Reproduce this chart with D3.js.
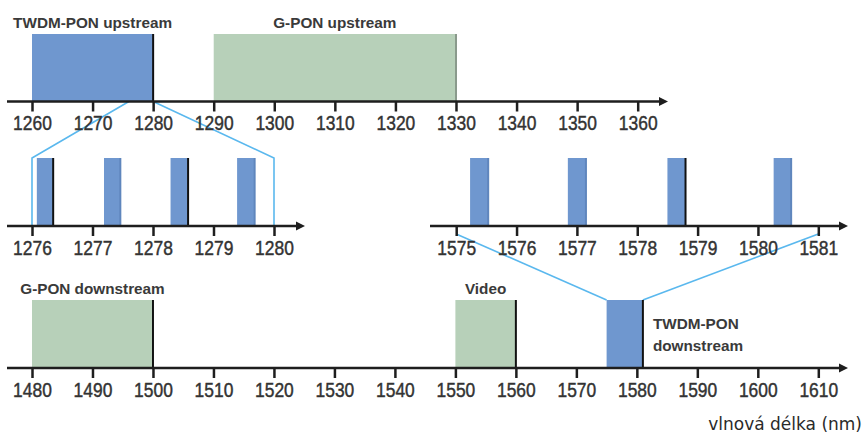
<!DOCTYPE html>
<html>
<head>
<meta charset="utf-8">
<script src="https://cdn.jsdelivr.net/npm/d3@7/dist/d3.min.js"></script>
<style>
  html, body { margin: 0; padding: 0; background: #fff; }
  svg { display: block; }
  .tick text { font-family: "Liberation Sans", Arial, sans-serif; font-size: 21px; fill: #333; stroke: #333; stroke-width: 0.45px; }
  .lbl { font-family: "Liberation Sans", Arial, sans-serif; font-weight: bold; font-size: 15.3px; fill: #3a3a3a; }
</style>
</head>
<body>
<script>
// ---------- DATA ----------
const upstreamTicks = [1260, 1270, 1280, 1290, 1300, 1310, 1320, 1330, 1340, 1350, 1360];
const upstreamBands = [
  { name: "TWDM-PON upstream", start: 1260, end: 1280, kind: "twdm" },
  { name: "G-PON upstream", start: 1290, end: 1330, kind: "gpon" }
];
const upZoomTicks = [1276, 1277, 1278, 1279, 1280];
const upZoomChannels = [
  { start: 1276.08, end: 1276.35 },
  { start: 1277.19, end: 1277.46 },
  { start: 1278.29, end: 1278.58 },
  { start: 1279.39, end: 1279.68 }
];
const downZoomTicks = [1575, 1576, 1577, 1578, 1579, 1580, 1581];
const downZoomChannels = [
  { start: 1575.23, end: 1575.53 },
  { start: 1576.85, end: 1577.15 },
  { start: 1578.50, end: 1578.80 },
  { start: 1580.26, end: 1580.55 }
];
const downstreamTicks = [1480, 1490, 1500, 1510, 1520, 1530, 1540, 1550, 1560, 1570, 1580, 1590, 1600, 1610];
const downstreamBands = [
  { name: "G-PON downstream", start: 1480, end: 1500, kind: "gpon" },
  { name: "Video", start: 1550, end: 1560, kind: "gpon" },
  { name: "TWDM-PON downstream", start: 1575, end: 1581, kind: "twdm" }
];
const upZoomRange = [1276, 1280];     // zoomed part of TWDM-PON upstream
const downZoomRange = [1575, 1581];   // zoomed part of TWDM-PON downstream
const axisTitle = "vlnová délka (nm)";

// ---------- STYLE / LAYOUT ----------
const W = 864, H = 433;
const fillOf = { twdm: "#6f97cf", gpon: "#b7d0b9" };
const linkColor = "#5ab8ee";
const axisColor = "#1e1e1e";

const svg = d3.select("body").append("svg").attr("width", W).attr("height", H);
svg.append("rect").attr("width", W).attr("height", H).attr("fill", "#fff");

const xTop = d3.scaleLinear().domain([1260, 1360]).range([32, 637.7]);
const xMidL = d3.scaleLinear().domain([1276, 1280]).range([32, 274]);
const xMidR = d3.scaleLinear().domain([1575, 1581]).range([456.2, 818.3]);
const xBot = d3.scaleLinear().domain([1480, 1610]).range([32, 818.3]);

const yTop = 101.5, yMid = 226, yBot = 368;

function drawAxis(scale, ticks, y, x0, x1) {
  const g = svg.append("g").attr("transform", `translate(0,${y})`);
  const ax = d3.axisBottom(scale).tickValues(ticks).tickFormat(d3.format("d"))
    .tickSize(10).tickSizeOuter(0).tickPadding(4);
  g.call(ax);
  g.select(".domain").remove();
  g.selectAll(".tick line").attr("stroke", axisColor).attr("stroke-width", 2.5);
  g.selectAll(".tick text").attr("font-family", null).attr("font-size", null)
    .attr("transform", "scale(0.83,1)");
  g.append("line").attr("x1", x0).attr("x2", x1 - 6).attr("y1", 0).attr("y2", 0)
    .attr("stroke", axisColor).attr("stroke-width", 2.5);
  g.append("path").attr("d", `M${x1 - 9},-4.5 L${x1},0 L${x1 - 9},4.5 Z`).attr("fill", axisColor);
  return g;
}

function drawBars(scale, data, yAxis, top, kindFn, edgeFn) {
  const g = svg.append("g");
  g.selectAll("rect").data(data).join("rect")
    .attr("x", d => scale(d.start))
    .attr("y", top)
    .attr("width", d => scale(d.end) - scale(d.start))
    .attr("height", yAxis - top)
    .attr("fill", d => fillOf[kindFn(d)]);
  g.selectAll("line.edge").data(data).join("line").attr("class", "edge")
    .attr("x1", d => scale(d.end)).attr("x2", d => scale(d.end))
    .attr("y1", top).attr("y2", yAxis)
    .attr("stroke", (d, i) => edgeFn(d, i))
    .attr("stroke-width", 2);
}

// links (drawn first so bars/axes overlay)
const links = svg.append("g").attr("fill", "none").attr("stroke", linkColor).attr("stroke-width", 1.6);
links.append("path").attr("d",
  `M${xTop(upZoomRange[0])},${yTop} L${xMidL(upZoomRange[0])},158 L${xMidL(upZoomRange[0])},${yMid}`);
links.append("path").attr("d",
  `M${xTop(upZoomRange[1])},${yTop} L${xMidL(upZoomRange[1])},158 L${xMidL(upZoomRange[1])},${yMid}`);
links.append("path").attr("d",
  `M${xMidR(downZoomRange[0])},${yMid + 8} L${xBot(downZoomRange[0])},300`);
links.append("path").attr("d",
  `M${xMidR(downZoomRange[1])},${yMid + 8} L${xBot(downZoomRange[1])},300`);

// top row
drawBars(xTop, upstreamBands, yTop, 34, d => d.kind, d => d.kind === "twdm" ? "#111" : "#8a9a8c");
// middle rows
const upEdge = ["#111", "#5f86bd", "#111", "#5f86bd"];
drawBars(xMidL, upZoomChannels, yMid, 158, () => "twdm", (d, i) => upEdge[i]);
const downEdge = ["#5f86bd", "#5f86bd", "#111", "#5f86bd"];
drawBars(xMidR, downZoomChannels, yMid, 158, () => "twdm", (d, i) => downEdge[i]);
// bottom row
drawBars(xBot, downstreamBands, yBot, 300, d => d.kind, () => "#111");

drawAxis(xTop, upstreamTicks, yTop, 7, 668);
drawAxis(xMidL, upZoomTicks, yMid, 7, 305);
drawAxis(xMidR, downZoomTicks, yMid, 430, 848);
drawAxis(xBot, downstreamTicks, yBot, 7, 848);

// band labels
svg.append("g").selectAll("text").data(upstreamBands).join("text")
  .attr("class", "lbl")
  .attr("x", d => (xTop(d.start) + xTop(d.end)) / 2)
  .attr("y", 27.5)
  .attr("text-anchor", "middle")
  .text(d => d.name);

const bl = svg.append("g");
downstreamBands.forEach(d => {
  if (d.kind === "twdm") {
    const parts = d.name.split(" ");
    const t = bl.append("text").attr("class", "lbl")
      .attr("x", xBot(d.end) + 10).attr("y", 329);
    t.append("tspan").attr("x", xBot(d.end) + 10).attr("y", 329).text(parts[0]);
    t.append("tspan").attr("x", xBot(d.end) + 10).attr("y", 350.5).text(parts[1]);
  } else {
    bl.append("text").attr("class", "lbl")
      .attr("x", (xBot(d.start) + xBot(d.end)) / 2)
      .attr("y", 294)
      .attr("text-anchor", "middle")
      .text(d.name);
  }
});

svg.append("text")
  .attr("x", 862).attr("y", 430)
  .attr("text-anchor", "end")
  .attr("font-family", "DejaVu Sans, sans-serif")
  .attr("font-size", 17)
  .attr("fill", "#2a2a2a")
  .text(axisTitle);
</script>
</body>
</html>
